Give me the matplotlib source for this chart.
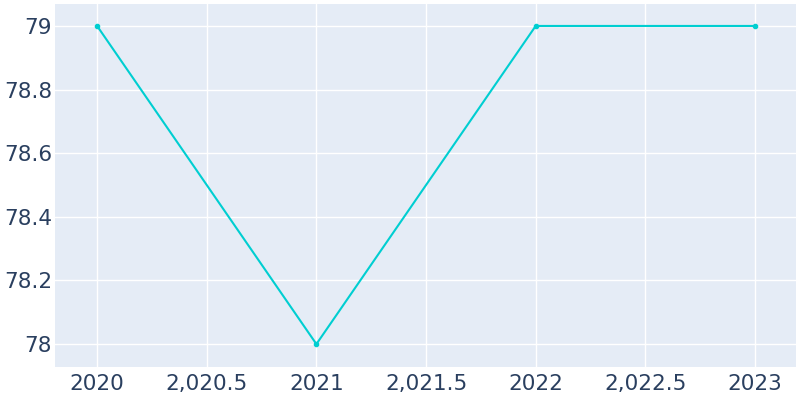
import matplotlib.pyplot as plt
from matplotlib.ticker import FuncFormatter

years = [2020, 2021, 2022, 2023]
values = [79, 78, 79, 79]
xticks = [2020, 2020.5, 2021, 2021.5, 2022, 2022.5, 2023]
yticks = [78, 78.2, 78.4, 78.6, 78.8, 79]

fig = plt.figure(figsize=(8, 4), dpi=100)
ax = fig.add_axes([0.06875, 0.0825, 0.92625, 0.9075])
ax.set_facecolor('#e5ecf6')
ax.plot(years, values, color='#00ced1', linewidth=1.5, marker='o', markersize=3, zorder=3)

ax.set_xlim(2019.808, 2023.187)
ax.set_ylim(77.928, 79.069)
ax.set_xticks(xticks)
ax.set_yticks(yticks)


def xfmt(v, pos):
    if v == int(v):
        return '%d' % v
    return '{:,.1f}'.format(v)


def yfmt(v, pos):
    return ('%.1f' % v).rstrip('0').rstrip('.')


ax.xaxis.set_major_formatter(FuncFormatter(xfmt))
ax.yaxis.set_major_formatter(FuncFormatter(yfmt))
ax.grid(color='white', linewidth=1)
ax.set_axisbelow(True)
for s in ax.spines.values():
    s.set_visible(False)
ax.tick_params(length=0, labelsize=15.5, labelcolor='#2a3f5f')
ax.tick_params(axis='x', pad=5)
ax.tick_params(axis='y', pad=2)

fig.savefig('out.png')
